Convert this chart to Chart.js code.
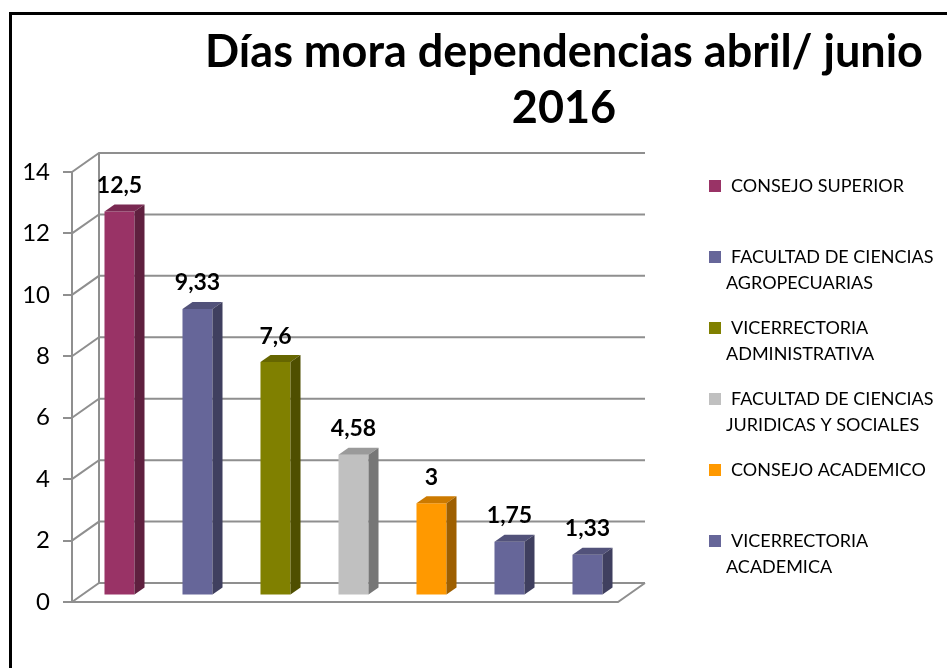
<!DOCTYPE html>
<html lang="es">
<head>
<meta charset="UTF-8">
<title>Días mora dependencias abril/ junio 2016</title>
<script src="https://cdn.jsdelivr.net/npm/chart.js"></script>
<style>
    html, body { margin: 0; padding: 0; background: #fff; }
    #wrap { width: 947px; height: 668px; position: relative; }
</style>
</head>
<body>
<div id="wrap"><canvas id="moraChart"></canvas></div>
<script>
// --- data ---
const titleLines = ['Días mora dependencias abril/ junio', '2016'];
const dependencias = [
    ['CONSEJO SUPERIOR'],
    ['FACULTAD DE CIENCIAS', 'AGROPECUARIAS'],
    ['VICERRECTORIA', 'ADMINISTRATIVA'],
    ['FACULTAD DE CIENCIAS', 'JURIDICAS Y SOCIALES'],
    ['CONSEJO ACADEMICO'],
    ['VICERRECTORIA', 'ACADEMICA'],
    ['']   // 7th bar has no visible legend entry
];
const diasMora = [12.5, 9.33, 7.6, 4.58, 3, 1.75, 1.33];
const barColors = ['#993366', '#666699', '#808000', '#C0C0C0', '#FF9900', '#666699', '#666699'];
const yMin = 0, yMax = 14, yStep = 2;

// 3d look
const WALL_DX = 27, WALL_DY = 19;     // back wall offset
const BAR_SHIFT_X = 8.5, BAR_SHIFT_Y = 6.5; // bars sit a bit behind the front plane
const BAR_DX = 10, BAR_DY = 7;        // bar depth
const GRID = '#8f8f8f';
const FONT = 'Lato, "Open Sans", sans-serif';

function shade(hex, f) {
    const n = parseInt(hex.slice(1), 16);
    const r = Math.round(((n >> 16) & 255) * f), g = Math.round(((n >> 8) & 255) * f), b = Math.round((n & 255) * f);
    return `rgb(${r},${g},${b})`;
}

const walls3d = {
    id: 'walls3d',
    beforeDraw(chart) {
        const ctx = chart.ctx, a = chart.chartArea, y = chart.scales.y;
        ctx.save();
        // outer frame (only top and left are inside the picture)
        ctx.fillStyle = '#000';
        ctx.fillRect(9, 12, 947, 3);
        ctx.fillRect(9, 12, 3, 668);

        ctx.strokeStyle = GRID;
        ctx.lineWidth = 2;
        ctx.beginPath();
        // back-left vertical edge
        ctx.moveTo(a.left + WALL_DX, a.top - WALL_DY);
        ctx.lineTo(a.left + WALL_DX, a.bottom - WALL_DY);
        for (let v = yMin; v <= yMax; v += yStep) {
            const py = y.getPixelForValue(v);
            ctx.moveTo(a.left, py);
            ctx.lineTo(a.left + WALL_DX, py - WALL_DY);
            ctx.lineTo(a.right + WALL_DX, py - WALL_DY);
        }
        // floor front and right edges
        ctx.moveTo(a.left, a.bottom);
        ctx.lineTo(a.right, a.bottom);
        ctx.lineTo(a.right + WALL_DX, a.bottom - WALL_DY);
        ctx.stroke();
        ctx.restore();
    },
    beforeDatasetsDraw(chart) {
        chart.ctx.save();
        chart.ctx.translate(BAR_SHIFT_X, -BAR_SHIFT_Y);
    },
    afterDatasetsDraw(chart) {
        const ctx = chart.ctx;
        const meta = chart.getDatasetMeta(0);
        meta.data.forEach((bar, i) => {
            const p = bar.getProps(['x', 'y', 'base', 'width'], true);
            const l = p.x - p.width / 2, r = p.x + p.width / 2;
            const col = barColors[i];
            // top face
            ctx.fillStyle = shade(col, 0.8);
            ctx.beginPath();
            ctx.moveTo(l, p.y);
            ctx.lineTo(l + BAR_DX, p.y - BAR_DY);
            ctx.lineTo(r + BAR_DX, p.y - BAR_DY);
            ctx.lineTo(r, p.y);
            ctx.closePath();
            ctx.fill();
            // side face
            ctx.fillStyle = shade(col, 0.62);
            ctx.beginPath();
            ctx.moveTo(r, p.y);
            ctx.lineTo(r + BAR_DX, p.y - BAR_DY);
            ctx.lineTo(r + BAR_DX, p.base - BAR_DY);
            ctx.lineTo(r, p.base);
            ctx.closePath();
            ctx.fill();
            // value label
            ctx.fillStyle = '#000';
            ctx.font = 'bold 23px ' + FONT;
            ctx.textAlign = 'center';
            ctx.textBaseline = 'alphabetic';
            ctx.fillText(String(diasMora[i]).replace('.', ','), p.x, p.y - BAR_DY - 11.5);
        });
        ctx.restore();
    },
    afterDraw(chart) {
        const ctx = chart.ctx;
        ctx.save();
        // title
        ctx.fillStyle = '#000';
        ctx.font = 'bold 45px ' + FONT;
        ctx.textAlign = 'center';
        ctx.textBaseline = 'alphabetic';
        ctx.fillText(titleLines[0], 564, 67);
        ctx.fillText(titleLines[1], 564, 123);

        // legend (right side, wrapped entries)
        ctx.font = '18px ' + FONT;
        ctx.textAlign = 'left';
        ctx.textBaseline = 'middle';
        dependencias.forEach((lines, i) => {
            if (!lines[0]) return;
            const cy = 186 + i * 71;
            ctx.fillStyle = barColors[i];
            ctx.fillRect(709, cy - 6, 12, 12);
            ctx.fillStyle = '#000';
            lines.forEach((t, k) => ctx.fillText(t, k === 0 ? 731 : 726, cy + k * 26));
        });
        ctx.restore();
    }
};

const ctx = document.getElementById('moraChart').getContext('2d');
new Chart(ctx, {
    type: 'bar',
    data: {
        labels: dependencias.map(d => d.join(' ')),
        datasets: [{
            label: 'Días mora',
            data: diasMora,
            backgroundColor: barColors,
            borderWidth: 0,
            barPercentage: 0.385,
            categoryPercentage: 1,
            clip: false
        }]
    },
    options: {
        responsive: true,
        maintainAspectRatio: false,
        animation: false,
        layout: { padding: { left: 0, right: 329, top: 172, bottom: 66 } },
        plugins: {
            legend: { display: false },
            title: { display: false },
            tooltip: { enabled: false }
        },
        scales: {
            x: { display: false },
            y: {
                min: yMin,
                max: yMax,
                ticks: { stepSize: yStep, color: '#000', font: { family: FONT, size: 24 }, padding: 13 },
                grid: { drawOnChartArea: false, drawTicks: true, tickLength: 9, color: GRID, lineWidth: 2 },
                border: { display: true, color: GRID, width: 2 },
                afterFit: s => { s.width = 72; }
            }
        }
    },
    plugins: [walls3d]
});
</script>
</body>
</html>
